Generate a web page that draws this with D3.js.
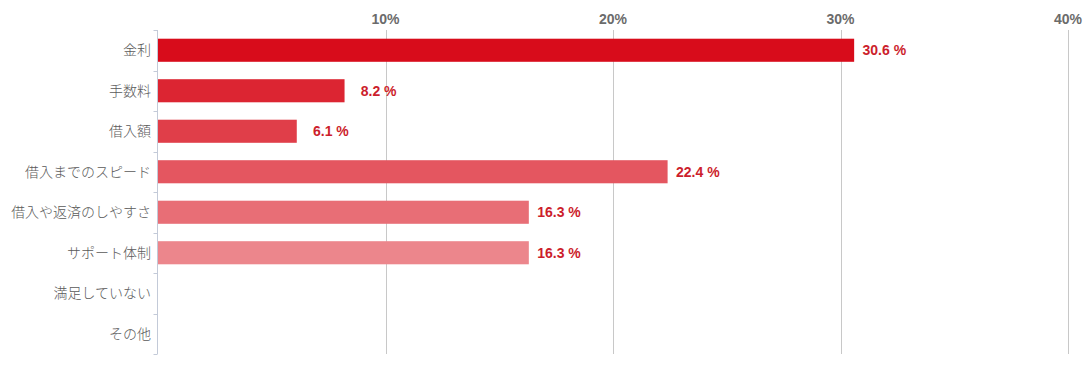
<!DOCTYPE html>
<html><head><meta charset="utf-8">
<script src="https://cdn.jsdelivr.net/npm/d3@7"></script>
<style>body{margin:0;background:#fff}svg{display:block}</style>
</head><body><svg id="c" width="1088" height="369"></svg>
<script>
const categories = ["金利","手数料","借入額","借入までのスピード","借入や返済のしやすさ","サポート体制","満足していない","その他"];
const values = [30.6, 8.2, 6.1, 22.4, 16.3, 16.3, null, null];
const barColors = ["#d80c1b","#dc2532","#e03e49","#e45660","#e86e76","#ec868c","#f09ea3","#f4b6ba"];
const tickValues = [10, 20, 30, 40];

const svg = d3.select("#c");
const mLeft = 158, mRight = 1068, mTop = 30, mBottom = 354;
const x = d3.scaleLinear().domain([0, 40]).range([mLeft, mRight]);
const y = d3.scaleBand().domain(categories).range([mTop, mBottom]).paddingInner(0.43).paddingOuter(0.215);

// grid
svg.append("g").selectAll("line").data(tickValues).join("line")
  .attr("x1", d => Math.round(x(d)) + 0.5).attr("x2", d => Math.round(x(d)) + 0.5)
  .attr("y1", mTop).attr("y2", mBottom)
  .attr("stroke", "#c8c8c8").attr("stroke-width", 1);

// top labels
svg.append("g").selectAll("text").data(tickValues).join("text")
  .attr("x", d => x(d)).attr("y", 24)
  .attr("text-anchor", "middle")
  .attr("font-family", "Liberation Sans, Arial, sans-serif")
  .attr("font-weight", "bold").attr("font-size", 14)
  .attr("fill", "#6b6b6b")
  .text(d => d + "%");

// bars
svg.append("g").selectAll("rect").data(categories.map((c, i) => ({c, v: values[i], i})).filter(d => d.v != null)).join("rect")
  .attr("x", x(0)).attr("y", d => y(d.c))
  .attr("width", d => x(d.v) - x(0)).attr("height", y.bandwidth())
  .attr("fill", d => barColors[d.i]);

// value labels (right-aligned in a fixed-width box after the bar end)
svg.append("g").selectAll("text").data(categories.map((c, i) => ({c, v: values[i]})).filter(d => d.v != null)).join("text")
  .attr("x", d => x(d.v) + 52).attr("y", d => y(d.c) + y.bandwidth() / 2 + 5)
  .attr("text-anchor", "end")
  .attr("font-family", "Liberation Sans, Arial, sans-serif")
  .attr("font-weight", "bold").attr("font-size", 14)
  .attr("fill", "#cc1e2c")
  .text(d => d.v.toFixed(1) + " %");

// left axis
const axisG = svg.append("g").attr("transform", `translate(${mLeft - 0.5},0)`);
axisG.append("line").attr("x1", 0).attr("x2", 0).attr("y1", mTop).attr("y2", mBottom).attr("stroke", "#c3cad8");
const ticksY = d3.range(categories.length + 1).map(i => mTop + i * (mBottom - mTop) / categories.length);
axisG.selectAll("line.t").data(ticksY).join("line").attr("class", "t")
  .attr("x1", -4).attr("x2", 0).attr("y1", d => Math.round(d) + 0.5).attr("y2", d => Math.round(d) + 0.5)
  .attr("stroke", "#c3cad8");

svg.append("g").selectAll("text").data(categories).join("text")
  .attr("x", 151).attr("y", d => y(d) + y.bandwidth() / 2 + 5)
  .attr("text-anchor", "end")
  .attr("font-family", "Noto Sans CJK JP, sans-serif")
  .attr("font-weight", 300)
  .attr("font-size", 14)
  .attr("fill", "#5a5a5a")
  .text(d => d);
</script></body></html>
